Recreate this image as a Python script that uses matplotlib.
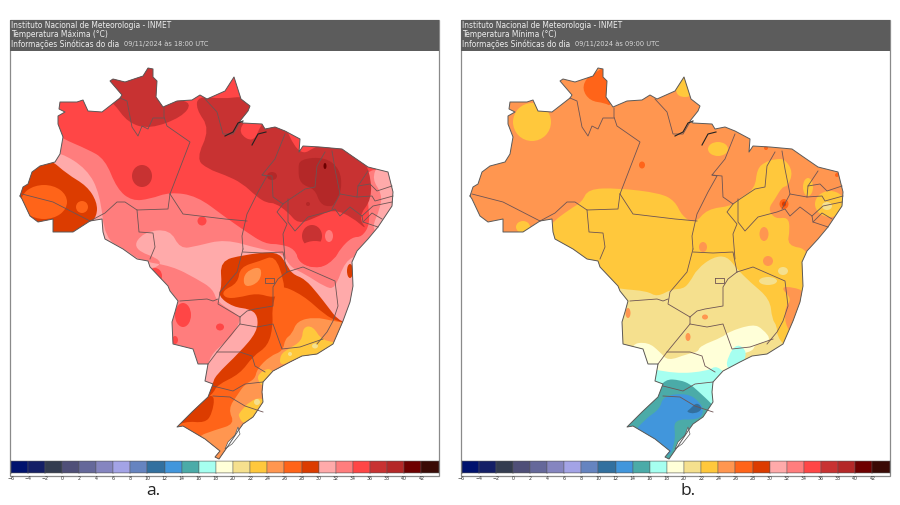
import matplotlib
matplotlib.use("Agg")
import matplotlib.pyplot as plt
from matplotlib.patches import Ellipse, PathPatch, Rectangle
from matplotlib.path import Path

WIDTH, HEIGHT = 900, 506

# colour bar
BAR_LEVELS = list(range(-6, 44, 2))
BAR_COLORS = [
    "#00126e", "#141f66", "#333c50", "#4f4f78", "#65689a", "#8585c0", "#a3a3e6",
    "#6684c0", "#32709f", "#4196dc", "#4baba8", "#a6fff0", "#ffffd8", "#f5e08e",
    "#ffc83c", "#ff9650", "#ff6419", "#dc3c00", "#ffaaaa", "#ff7d7d", "#ff4646",
    "#c83232", "#b42828", "#6e0000", "#3a0a05",
]
LEVEL_COLOR = dict(zip(BAR_LEVELS, BAR_COLORS))

# Brazil outline, map coordinates
BRAZIL = [
    (20, 197), (23, 188), (28, 185), (32, 173), (40, 167), (55, 163), (60, 155),
    (63, 138), (58, 125), (58, 117), (65, 113), (59, 110), (60, 103), (77, 103),
    (83, 101), (88, 112), (102, 113), (120, 99), (122, 96), (110, 82), (113, 80),
    (125, 83), (143, 77), (148, 69), (153, 70), (153, 78), (157, 82), (156, 98),
    (163, 108), (177, 102), (192, 101), (200, 96), (207, 100), (225, 92), (234, 78),
    (241, 100), (250, 107), (248, 112), (240, 122), (243, 124), (262, 125), (265, 130),
    (275, 128), (285, 132), (300, 140), (299, 153), (303, 147), (320, 148), (342, 150),
    (352, 157), (368, 168), (388, 173), (393, 193), (392, 207), (378, 228), (368, 240),
    (357, 252), (352, 263), (353, 287), (350, 303), (343, 322), (333, 345), (317, 355),
    (302, 357), (290, 363), (273, 372), (263, 383), (262, 393), (263, 403), (253, 418),
    (243, 425), (238, 432), (228, 447), (219, 460), (215, 458), (220, 452), (205, 440),
    (183, 427), (177, 428), (192, 413), (208, 398), (213, 385), (205, 382), (208, 365),
    (198, 365), (193, 350), (173, 345), (172, 323), (175, 313), (178, 302), (170, 292),
    (168, 287), (150, 268), (148, 262), (137, 260), (123, 250), (105, 240), (103, 233),
    (102, 220), (90, 222), (73, 233), (53, 233), (53, 220), (38, 223), (30, 217),
    (22, 200),
]
LAGOON = [(238, 428), (240, 435), (232, 445), (225, 450), (228, 443), (235, 436)]

# state borders
BORDERS = [
    [(22, 195), (53, 203), (90, 222)],
    [(90, 222), (105, 214), (117, 203), (125, 203), (137, 211), (168, 210), (170, 195)],
    [(170, 195), (190, 143), (167, 127), (164, 118), (164, 109)],
    [(120, 99), (127, 102), (132, 128), (138, 137), (142, 127), (148, 130), (153, 119), (164, 119)],
    [(137, 211), (139, 233), (153, 234), (155, 248), (150, 260)],
    [(170, 195), (183, 215), (225, 220), (247, 222)],
    [(205, 100), (217, 113), (223, 135), (233, 135), (240, 123)],
    [(285, 135), (275, 160), (262, 176), (267, 177), (258, 193), (247, 215), (242, 237), (243, 250)],
    [(243, 250), (237, 273), (220, 293), (218, 305), (240, 318)],
    [(180, 302), (207, 300), (213, 302), (218, 300)],
    [(240, 318), (247, 312), (255, 310), (273, 307), (273, 288), (278, 280), (287, 273)],
    [(243, 253), (263, 254), (283, 253), (287, 273)],
    [(287, 273), (303, 268), (335, 282), (338, 307), (333, 322), (327, 333), (317, 345)],
    [(240, 318), (240, 325), (217, 353), (208, 365)],
    [(240, 325), (257, 328), (273, 325), (282, 350), (300, 348), (323, 340)],
    [(217, 353), (240, 353), (252, 357), (255, 367), (265, 373)],
    [(213, 387), (233, 392), (245, 385), (263, 383)],
    [(213, 397), (230, 398), (245, 407), (263, 413)],
    [(325, 153), (317, 167), (315, 188), (305, 190), (290, 200), (283, 205)],
    [(262, 176), (272, 177), (273, 198), (283, 205), (277, 213), (287, 225), (283, 235), (285, 260)],
    [(288, 200), (288, 223), (295, 232), (308, 218), (327, 213), (335, 210), (340, 217),
     (350, 208), (362, 217), (363, 223), (378, 228)],
    [(332, 152), (335, 170), (340, 195), (332, 210)],
    [(340, 195), (357, 198), (358, 187), (368, 172)],
    [(358, 187), (370, 185), (377, 192), (392, 187)],
    [(357, 198), (372, 197), (375, 202), (393, 197)],
    [(362, 217), (373, 207), (392, 203)],
    [(363, 223), (372, 214), (382, 220)],
]
DF_BOX = [(265, 279), (274, 279), (274, 284), (265, 284), (265, 279)]
RIVER_MOUTH = [
    [(225, 137), (233, 133), (238, 124), (243, 122)],
    [(252, 146), (258, 135), (266, 133)],
]

# temperature maxima: filled bands painted in this order over MAX_BASE
MAX_BASE = 32
MAX_BANDS = [
    (34, [(20, 60), (400, 50), (400, 170), (365, 170), (368, 190), (368, 205), (370, 225), (362, 238),
          (352, 238), (340, 250), (335, 260), (320, 270), (300, 265), (295, 250), (280, 245), (265, 245),
          (245, 232), (225, 218), (197, 197), (170, 193), (150, 200), (132, 202), (117, 190),
          (105, 160), (87, 150), (63, 140), (30, 120)]),
    (36, [(100, 60), (175, 50), (175, 100), (192, 104), (182, 118), (150, 130), (128, 124), (113, 103), (95, 90)]),
    (36, [(198, 97), (222, 100), (246, 97), (256, 106), (246, 120), (238, 134), (254, 144), (262, 122),
          (280, 116), (299, 158), (318, 146), (338, 144), (360, 155), (370, 173), (372, 200), (358, 218),
          (368, 232), (352, 218), (333, 210), (315, 219), (298, 225), (288, 213), (275, 204),
          (267, 204), (257, 198), (242, 184), (225, 176), (208, 170), (196, 160), (210, 130), (196, 110)]),
    (38, [(300, 160), (325, 158), (340, 170), (342, 190), (335, 205), (330, 208), (320, 205),
          (315, 190), (300, 185), (298, 170)]),
    (30, [(105, 240), (100, 195), (87, 170), (60, 153), (45, 155), (35, 235), (110, 265), (150, 272), (165, 262),
          (132, 250), (143, 233), (170, 230), (180, 250), (197, 247), (225, 240), (260, 250), (283, 254),
          (290, 268), (305, 275), (325, 288), (335, 290), (345, 262), (360, 255), (362, 300), (350, 330), (250, 400),
          (203, 392), (207, 367), (213, 353), (230, 340), (240, 323), (240, 317), (217, 303), (213, 290),
          (197, 280), (172, 267), (140, 262), (125, 250)]),
    (30, [(378, 165), (400, 170), (400, 215), (378, 235), (372, 228), (380, 210), (382, 195), (372, 180)]),
    (28, [(10, 190), (35, 160), (50, 160), (67, 175), (87, 187), (97, 203), (97, 217), (88, 227),
          (50, 250), (10, 240)]),
    (28, [(220, 262), (243, 256), (277, 252), (286, 264), (292, 275), (305, 280), (318, 295), (328, 308),
          (338, 321), (350, 325), (300, 370), (260, 420), (220, 470), (170, 430), (205, 395), (213, 385),
          (215, 377), (240, 353), (257, 333), (258, 317), (250, 310), (233, 308), (218, 297), (222, 287)]),
    (26, [(222, 292), (238, 284), (240, 268), (260, 262), (275, 256), (284, 282), (284, 294), (273, 299),
          (257, 294), (237, 299), (225, 299)]),
    (24, [(243, 278), (250, 270), (262, 268), (260, 283), (245, 289)]),
    (26, [(278, 285), (303, 296), (325, 316), (337, 322), (350, 325), (325, 355), (300, 365), (270, 383),
          (268, 395), (262, 420), (228, 465), (218, 475), (195, 448), (165, 432), (195, 408), (213, 395),
          (217, 386), (240, 375), (253, 357), (268, 347), (273, 327), (272, 310), (275, 298)]),
    (28, [(205, 398), (215, 396), (212, 415), (205, 424), (185, 422), (165, 432)]),
    (24, [(292, 335), (297, 322), (315, 318), (333, 322), (352, 325), (335, 355), (318, 362), (300, 365),
          (285, 370), (270, 382), (268, 385), (272, 400), (262, 425), (240, 440), (222, 470), (205, 448),
          (196, 438), (215, 431), (235, 425), (228, 410), (238, 395), (245, 385), (255, 380), (257, 370),
          (270, 357), (283, 352), (285, 340)]),
    (22, [(288, 350), (302, 342), (303, 328), (313, 327), (322, 342), (345, 344), (317, 363), (300, 357),
          (280, 368), (280, 356)]),
    (22, [(258, 375), (270, 368), (275, 378), (263, 388), (258, 382)]),
    (22, [(240, 413), (250, 402), (262, 398), (270, 408), (245, 427), (238, 417)]),
]
MAX_DOTS = [
    (36, 142, 177, 10, 11), (36, 312, 237, 10, 11), (36, 265, 149, 4, 4),
    (38, 272, 177, 5, 4), (38, 308, 205, 2, 2), (40, 325, 167, 1.5, 3),
    (34, 155, 277, 7, 8), (34, 183, 316, 8, 12), (34, 220, 328, 4, 3.5),
    (34, 175, 341, 3, 4), (34, 202, 222, 4.5, 4.5), (34, 315, 255, 18, 13),
    (32, 329, 237, 4, 6), (26, 44, 203, 23, 17),
    (26, 82, 208, 6, 6), (20, 257, 403, 3, 3), (20, 290, 355, 2, 2), (20, 315, 347, 3, 2.5),
    (28, 350, 272, 3, 7),
]

# temperature minima
MIN_BASE = 24
MIN_BANDS = [
    (22, [(222, 98), (234, 65), (248, 98)]),
    (22, [(100, 225), (120, 210), (132, 203), (138, 190), (167, 189), (210, 194), (225, 202), (232, 217),
          (245, 225), (257, 210), (282, 207), (288, 200), (305, 190), (307, 170), (315, 163), (325, 160),
          (335, 160), (343, 173), (338, 187), (332, 188), (325, 200), (318, 210), (325, 220), (338, 218),
          (340, 230), (337, 247), (360, 250), (365, 300), (345, 360), (150, 300), (140, 265), (115, 255),
          (95, 240)]),
    (20, [(145, 285), (170, 290), (197, 292), (207, 298), (222, 290), (233, 290), (240, 283), (247, 270),
          (263, 258), (277, 257), (287, 270), (300, 283), (320, 300), (322, 320), (327, 327), (327, 337),
          (335, 347), (345, 360), (300, 420), (150, 420), (150, 320)]),
    (18, [(180, 345), (198, 343), (210, 353), (218, 362), (237, 355), (248, 353), (250, 347), (273, 338),
          (278, 333), (303, 325), (313, 330), (322, 342), (305, 345), (303, 352), (290, 355), (290, 368),
          (262, 390), (205, 395), (185, 370)]),
    (16, [(185, 366), (225, 375), (258, 372), (267, 366), (280, 380), (275, 415), (240, 425), (185, 410)]),
    (16, [(278, 357), (287, 344), (298, 353), (290, 370), (276, 370)]),
    (14, [(155, 440), (205, 395), (215, 380), (230, 381), (240, 385), (248, 392), (262, 405), (275, 420),
          (240, 450), (220, 485), (180, 445)]),
    (12, [(213, 397), (237, 394), (250, 403), (254, 413), (248, 421), (223, 420), (226, 440), (218, 462),
          (180, 438), (195, 420), (210, 410)]),
    (10, [(240, 410), (247, 403), (253, 410), (245, 415), (236, 413)]),
    (24, [(330, 288), (343, 288), (356, 293), (347, 310), (352, 325), (343, 337), (335, 325), (335, 308), (342, 300)]),
    (26, [(132, 90), (137, 78), (147, 73), (165, 60), (162, 108), (155, 104), (140, 102)]),
]
MIN_DOTS = [
    (22, 82, 123, 19, 19), (26, 192, 166, 3, 3.5), (22, 73, 228, 7, 6),
    (24, 314, 235, 4.5, 7), (24, 253, 248, 4, 5), (22, 268, 150, 10, 7),
    (22, 358, 188, 5, 9), (22, 380, 205, 15, 13), (20, 377, 207, 5, 4),
    (26, 334, 205, 4.5, 5), (28, 334, 205, 2, 2.5), (26, 316, 149, 2, 2), (26, 387, 176, 2, 2),
    (24, 318, 262, 5, 5), (24, 255, 318, 3, 2.5), (24, 238, 338, 2.5, 4), (24, 178, 314, 2.5, 5),
    (20, 333, 272, 5, 4), (20, 318, 282, 9, 4),
]


def smooth_path(points):
    # quadratic segments through edge midpoints, gives the rounded contour look
    mids = [
        ((points[i][0] + points[(i + 1) % len(points)][0]) / 2,
         (points[i][1] + points[(i + 1) % len(points)][1]) / 2)
        for i in range(len(points))
    ]
    verts = [mids[-1]]
    codes = [Path.MOVETO]
    for i in range(len(points)):
        verts += [points[i], mids[i]]
        codes += [Path.CURVE3, Path.CURVE3]
    return Path(verts, codes)


def px_axes(fig, left, top, right, bottom):
    return fig.add_axes([left / WIDTH, 1 - bottom / HEIGHT, (right - left) / WIDTH, (bottom - top) / HEIGHT])


def draw_map(ax, base, bands, dots):
    outline = Path(BRAZIL + [BRAZIL[0]], closed=True)
    clip = PathPatch(outline, facecolor=LEVEL_COLOR[base], edgecolor="none", zorder=1)
    ax.add_patch(clip)
    z = 2
    for level, pts in bands:
        patch = PathPatch(smooth_path(pts), facecolor=LEVEL_COLOR[level], edgecolor="none", zorder=z)
        ax.add_patch(patch)
        patch.set_clip_path(clip)
        z += 1
    for level, x, y, rx, ry in dots:
        dot = Ellipse((x, y), 2 * rx, 2 * ry, facecolor=LEVEL_COLOR[level], edgecolor="none", zorder=z)
        ax.add_patch(dot)
        dot.set_clip_path(clip)
        z += 1

    ax.add_patch(PathPatch(Path(LAGOON + [LAGOON[0]], closed=True), facecolor="white",
                           edgecolor="#555555", linewidth=0.5, zorder=z))
    z += 1
    for line in BORDERS + [DF_BOX]:
        ax.plot(*zip(*line), color="#6d5454", linewidth=0.6, zorder=z)
    for line in RIVER_MOUTH:
        ax.plot(*zip(*line), color="#222222", linewidth=0.8, zorder=z)
    ax.plot(*zip(*(BRAZIL + [BRAZIL[0]])), color="#5a5a5a", linewidth=0.7, zorder=z)


def draw_panel(fig, page, left, shift, title, date, base, bands, dots, letter, letter_x):
    right = left + 429
    page.add_patch(Rectangle((left, 21), 429, 456, facecolor="white", edgecolor="#8a8a8a", linewidth=0.9))
    page.add_patch(Rectangle((left, 21), 429, 31, facecolor="#5c5c5c", edgecolor="none"))
    page.text(left + 1, 25.5, "Instituto Nacional de Meteorologia - INMET", color="#eeeeee", fontsize=5.45, va="center")
    page.text(left + 1, 34.5, title, color="#eeeeee", fontsize=5.45, va="center")
    page.text(left + 1, 44, "Informações Sinóticas do dia", color="#eeeeee", fontsize=5.45, va="center")
    page.text(left + 114, 44, date, color="#d8d8d8", fontsize=4.8, va="center")
    page.text(letter_x, 491, letter, color="#222222", fontsize=12.5, family="Open Sans", ha="center", va="center")

    ax = px_axes(fig, left, 52, right, 462)
    ax.set_xlim(10 + shift, 439 + shift)
    ax.set_ylim(462, 52)
    ax.axis("off")
    draw_map(ax, base, bands, dots)

    bar = px_axes(fig, left + 0.5, 462, right - 0.5, 474)
    bar.bar(BAR_LEVELS, [1] * len(BAR_LEVELS), width=2, align="edge", color=BAR_COLORS,
            edgecolor="#555555", linewidth=0.3)
    bar.set_xlim(-6, 44)
    bar.set_ylim(0, 1)
    bar.set_yticks([])
    bar.set_xticks(BAR_LEVELS)
    bar.set_xticklabels([str(v).replace("-", "\u2212") for v in BAR_LEVELS])
    bar.tick_params(axis="x", length=1, width=0.3, pad=0.3, labelsize=3.4, labelcolor="#333333", color="#333333")
    for tick in bar.get_xticklabels():
        tick.set_x(tick.get_position()[0])
    for spine in bar.spines.values():
        spine.set_linewidth(0.3)
        spine.set_color("#555555")


fig = plt.figure(figsize=(WIDTH / 100, HEIGHT / 100), dpi=100)
page = fig.add_axes([0, 0, 1, 1])
page.set_xlim(0, WIDTH)
page.set_ylim(HEIGHT, 0)
page.axis("off")

draw_panel(fig, page, 10, 0, "Temperatura Máxima (°C)", "09/11/2024 às 18:00 UTC",
           MAX_BASE, MAX_BANDS, MAX_DOTS, "a.", 153)
draw_panel(fig, page, 461, 1, "Temperatura Mínima (°C)", "09/11/2024 às 09:00 UTC",
           MIN_BASE, MIN_BANDS, MIN_DOTS, "b.", 688)

fig.savefig("out.png", dpi=100)
plt.close(fig)
